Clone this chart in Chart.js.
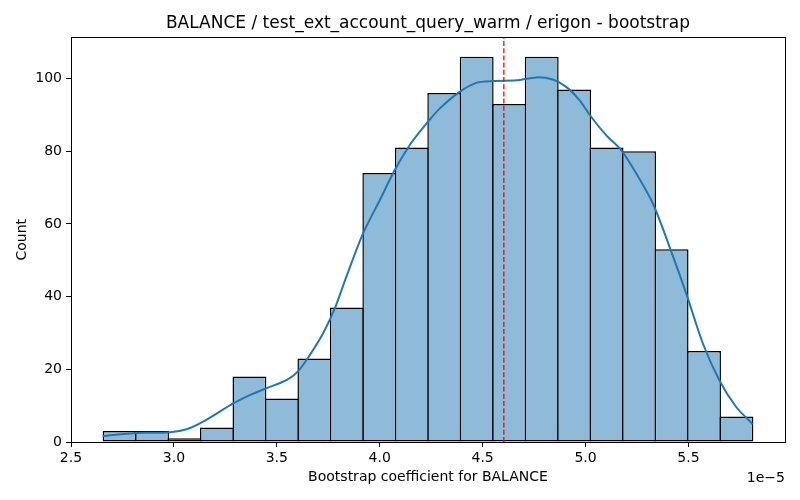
<!DOCTYPE html>
<html>
<head>
<meta charset="utf-8">
<script src="https://cdn.jsdelivr.net/npm/chart.js@4.4.1/dist/chart.umd.min.js"></script>
<style>
  html, body { margin: 0; padding: 0; background: #fff; }
  #wrap { width: 800px; height: 500px; }
</style>
</head>
<body>
<div id="wrap"><canvas id="histChart" width="800" height="500"></canvas></div>
<script>
// values in units of 1e-5
const binEdges = [2.657, 2.815, 2.973, 3.130, 3.288, 3.446, 3.604, 3.761, 3.919, 4.077, 4.235,
                  4.392, 4.550, 4.708, 4.866, 5.023, 5.181, 5.339, 5.497, 5.654, 5.812];
const counts   = [3, 3, 1, 4, 18, 12, 23, 37, 74, 81, 96, 106, 93, 106, 97, 81, 80, 53, 25, 7];

const kdeX = [2.654, 2.819, 2.972, 3.062, 3.142, 3.288, 3.369, 3.45, 3.547, 3.604, 3.66, 3.725,
              3.782, 3.838, 3.919, 4.0, 4.073, 4.146, 4.194, 4.227, 4.291, 4.388, 4.469, 4.55,
              4.664, 4.76, 4.841, 4.906, 4.971, 5.028, 5.1, 5.173, 5.246, 5.327, 5.408, 5.489,
              5.57, 5.65, 5.731, 5.812];
const kdeY = [1.65, 2.5, 2.6, 3.5, 5.6, 10.6, 12.9, 14.8, 17.0, 19.5, 23.9, 29.9,
              36.8, 45.5, 57.4, 66.5, 74.8, 81.7, 85.3, 87.6, 91.7, 96.3, 98.8, 99.3,
              99.5, 100.3, 99.7, 97.7, 94.0, 89.4, 84.4, 80.3, 73.9, 65.6, 53.7, 40.9,
              27.1, 17.0, 9.7, 4.9];

const meanValue = 4.603;
const xMin = 2.5, xMax = 5.969;
const yMax = 111.3;
const xTickStep = 0.5, yTickStep = 20;

const titleText = 'BALANCE / test_ext_account_query_warm / erigon - bootstrap';
const xLabel = 'Bootstrap coefficient for BALANCE';
const yLabel = 'Count';
const offsetText = '1e\u22125';

const FONT = 'DejaVu Sans';

const barData = counts.map((c, i) => ({ x: (binEdges[i] + binEdges[i + 1]) / 2, y: c }));
const kdeData = kdeX.map((x, i) => ({ x, y: kdeY[i] }));

// top/right spines + scale offset text
const framePlugin = {
  id: 'frame',
  afterDraw(chart) {
    const { ctx, chartArea: a } = chart;
    ctx.save();
    ctx.strokeStyle = '#000';
    ctx.lineWidth = 1;
    ctx.strokeRect(Math.round(a.left) + 0.5, Math.round(a.top) + 0.5,
                   Math.round(a.right - a.left), Math.round(a.bottom - a.top));
    ctx.fillStyle = '#000';
    ctx.font = `14px "${FONT}"`;
    ctx.textAlign = 'right';
    ctx.textBaseline = 'alphabetic';
    ctx.fillText(offsetText, a.right, 482);
    ctx.restore();
  }
};

new Chart(document.getElementById('histChart'), {
  type: 'bar',
  data: {
    datasets: [
      {
        type: 'line',
        data: [{ x: meanValue, y: 0 }, { x: meanValue, y: yMax }],
        borderColor: '#ff0000',
        borderWidth: 1.3,
        borderDash: [5, 2.2],
        pointRadius: 0,
        order: 0,
      },
      {
        type: 'line',
        data: kdeData,
        borderColor: '#1f77b4',
        borderWidth: 2,
        pointRadius: 0,
        tension: 0.3,
        fill: false,
        order: 1,
      },
      {
        type: 'bar',
        data: barData,
        backgroundColor: '#8fbbd9',
        borderColor: '#000',
        borderWidth: 1.5,
        borderSkipped: false,
        barPercentage: 1.046,
        categoryPercentage: 1,
        grouped: false,
        order: 2,
      }
    ]
  },
  options: {
    responsive: false,
    animation: false,
    layout: { padding: { left: 0, right: 15, top: 0, bottom: 0 } },
    plugins: {
      legend: { display: false },
      tooltip: { enabled: false },
      title: {
        display: true,
        text: titleText,
        color: '#000',
        fullSize: false,
        font: { family: FONT, size: 17, weight: 'normal' },
        padding: { top: 13, bottom: 4 }
      }
    },
    scales: {
      x: {
        type: 'linear',
        min: xMin,
        max: xMax,
        offset: false,
        afterFit: s => { s.height = 58; },
        grid: { drawOnChartArea: false, drawTicks: true, tickLength: 5, tickColor: '#000', offset: false },
        border: { display: true, color: '#000', width: 1 },
        ticks: {
          stepSize: xTickStep,
          includeBounds: false,
          color: '#000',
          padding: 3,
          maxRotation: 0,
          font: { family: FONT, size: 14 },
          callback: v => v.toFixed(1)
        },
        title: {
          display: true,
          text: xLabel,
          color: '#000',
          font: { family: FONT, size: 14 },
          padding: { top: 0, bottom: 14.6 }
        }
      },
      y: {
        min: 0,
        max: yMax,
        afterFit: s => { s.width = 71; },
        grid: { drawOnChartArea: false, drawTicks: true, tickLength: 5, tickColor: '#000' },
        border: { display: true, color: '#000', width: 1 },
        ticks: {
          stepSize: yTickStep,
          includeBounds: false,
          color: '#000',
          padding: 4,
          font: { family: FONT, size: 14 }
        },
        title: {
          display: true,
          text: yLabel,
          color: '#000',
          font: { family: FONT, size: 14 },
          padding: { top: 14, bottom: 0 }
        }
      }
    }
  },
  plugins: [framePlugin]
});
</script>
</body>
</html>
